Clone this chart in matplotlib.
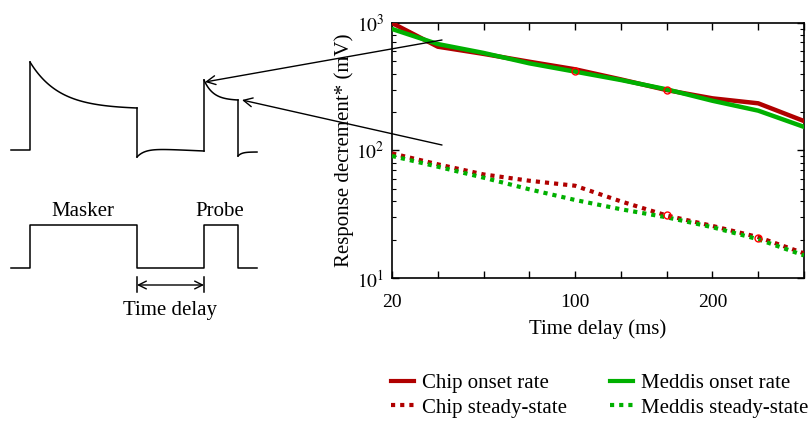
import numpy as np
import matplotlib
matplotlib.use("Agg")
import matplotlib.pyplot as plt
from matplotlib.lines import Line2D

plt.rcParams['font.family'] = ['Liberation Serif', 'DejaVu Serif']
plt.rcParams['mathtext.fontset'] = 'stix'

# ---------------- data ----------------
x_pos = [0, 1, 2, 3, 4, 5, 6, 7, 8, 9]
x_tick_labels = ['20', '', '', '', '100', '', '', '200', '', '']
chip_onset = [995, 649, 570, 495, 432, 360, 297, 256, 234, 170]
meddis_onset = [893, 681, 580, 481, 414, 356, 301, 245, 205, 153]
chip_steady = [95, 78, 65, 58, 53, 40, 31, 25.7, 21, 15.7]
meddis_steady = [90.6, 74.7, 61.3, 49.7, 41, 34.7, 30, 25.1, 20.2, 15.1]
circ_x = [4, 6, 6, 8]
circ_y = [421, 297, 31.3, 20.7]
legend_labels_1 = ['Chip onset rate', 'Chip steady-state']
legend_labels_2 = ['Meddis onset rate', 'Meddis steady-state']

RED = '#b00000'
GREEN = '#00b000'
DOT = (0, (1, 1.2))

W, H = 809, 425
fig = plt.figure(figsize=(W / 100, H / 100), dpi=100)

ax = fig.add_axes([392 / W, 1 - 278.3 / H, (804 - 392) / W, (278.3 - 22.7) / H])
ax.plot(x_pos, chip_onset, color=RED, lw=3.2, zorder=3)
ax.plot(x_pos, meddis_onset, color=GREEN, lw=3.2, zorder=4)
ax.plot(x_pos, chip_steady, color=RED, lw=3.0, linestyle=DOT, zorder=3)
ax.plot(x_pos, meddis_steady, color=GREEN, lw=3.0, linestyle=DOT, zorder=4)
ax.plot(circ_x, circ_y, linestyle='none', marker='o', ms=5, mfc='none', mec='#ff0000', mew=1.0, zorder=5)

ax.set_yscale('log')
ax.set_ylim(10, 1000)
ax.set_xlim(x_pos[0], x_pos[-1])
ax.set_xticks(x_pos)
ax.set_xticklabels(x_tick_labels)
ax.tick_params(axis='both', which='both', direction='in', top=True, right=True, labelsize=14)
ax.tick_params(axis='both', which='major', length=5, width=1)
ax.tick_params(axis='x', which='major', pad=11.5)
ax.tick_params(axis='y', which='major', pad=5.5)
ax.tick_params(axis='y', which='minor', length=3, width=0.8)
ax.set_yticks([10, 100, 1000])
ax.set_yticklabels([r'$10^1$', r'$10^2$', r'$10^3$'])
for s in ax.spines.values():
    s.set_linewidth(1.2)
ax.set_xlabel('Time delay (ms)', fontsize=15, labelpad=6)
ax.set_ylabel('Response decrement* (mV)', fontsize=15, labelpad=1.5)

# legend (two columns placed separately)
h1 = [Line2D([], [], color=RED, lw=3), Line2D([], [], color=RED, lw=3, linestyle=DOT)]
h2 = [Line2D([], [], color=GREEN, lw=3), Line2D([], [], color=GREEN, lw=3, linestyle=DOT)]
common = dict(frameon=False, fontsize=15, loc='center left', handlelength=1.1,
              handletextpad=0.4, labelspacing=0.25, borderpad=0, borderaxespad=0)
fig.legend(h1, legend_labels_1, bbox_to_anchor=(391 / W, 1 - 395.5 / H), **common)
fig.legend(h2, legend_labels_2, bbox_to_anchor=(610 / W, 1 - 395.5 / H), **common)

# ---------------- schematic (pixel coordinates) ----------------
ov = fig.add_axes([0, 0, 1, 1], zorder=10)
ov.set_xlim(0, W)
ov.set_ylim(H, 0)
ov.axis('off')
ov.patch.set_alpha(0)

k = dict(color='black', lw=1.1)


def decay(t, tau):
    return (np.exp(-t / tau) - np.exp(-1 / tau)) / (1 - np.exp(-1 / tau))


# upper trace
t1 = np.linspace(0, 1, 100)
ov.plot([11, 30, 30], [150, 150, 62], **k)
ov.plot(30 + 107 * t1, 108 - 46 * decay(t1, 0.27), **k)
ov.plot([137, 137], [108, 157], **k)
ov.plot(137 + 67 * t1, 157 - 9 * (1 - np.exp(-t1 / 0.12)) + 3 * t1, **k)
ov.plot([204, 204], [151, 80], **k)
t2 = np.linspace(0, 1, 50)
ov.plot(204 + 34 * t2, 100 - 20 * decay(t2, 0.27), **k)
ov.plot([238, 238], [100, 156], **k)
t3 = np.linspace(0, 1, 30)
ov.plot(238 + 19 * t3, 156 - 4 * (1 - np.exp(-t3 / 0.2)), **k)

# lower trace
ov.plot([11, 30, 30, 137, 137, 204, 204, 238, 238, 257],
        [268, 268, 225, 225, 268, 268, 225, 225, 268, 268], **k)
ov.text(83, 211, 'Masker', ha='center', va='center', fontsize=15)
ov.text(220, 211, 'Probe', ha='center', va='center', fontsize=15)
ov.annotate('', xy=(137, 285), xytext=(204, 285),
            arrowprops=dict(arrowstyle='<->', color='black', lw=1.0, shrinkA=0, shrinkB=0, mutation_scale=14))
ov.plot([137, 137], [277, 292], **k)
ov.plot([204, 204], [277, 292], **k)
ov.text(170, 311, 'Time delay', ha='center', va='center', fontsize=15)

# arrows into chart
ov.annotate('', xy=(205, 82), xytext=(442, 40),
            arrowprops=dict(arrowstyle='->', color='black', lw=1.0, shrinkA=0, shrinkB=0, mutation_scale=16))
ov.annotate('', xy=(242, 100), xytext=(442, 145),
            arrowprops=dict(arrowstyle='->', color='black', lw=1.0, shrinkA=0, shrinkB=0, mutation_scale=16))

fig.savefig('out.png', dpi=100)
